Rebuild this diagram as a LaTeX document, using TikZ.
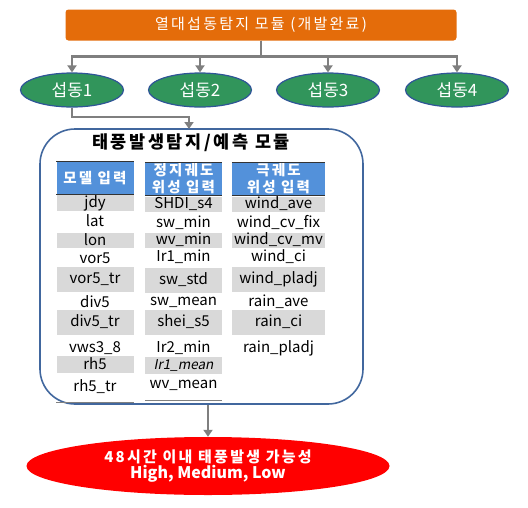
\documentclass[tikz,border=0pt]{standalone}
\usepackage{fontspec}
\setmainfont{Noto Sans CJK KR}
\newfontfamily\slantfont{Noto Sans CJK KR}[FakeSlant=0.2]
\newfontfamily\spacedfont{Noto Sans CJK KR}[LetterSpace=15]
\usepackage{tikz}
\usetikzlibrary{shapes.geometric,arrows.meta}
\definecolor{modorange}{HTML}{E46C0A}
\definecolor{distgreen}{HTML}{31955B}
\definecolor{distblue}{HTML}{2F5597}
\definecolor{headblue}{HTML}{5391DA}
\definecolor{boxblue}{HTML}{41679E}
\definecolor{cellgray}{HTML}{D9D9D9}
\definecolor{linkgray}{HTML}{7F7F7F}
\tikzstyle{module}=[rectangle, rounded corners=3pt, fill=modorange, text=white, minimum width=391, minimum height=31, font=\fontsize{15}{17}\spacedfont]
\tikzstyle{dist} = [ellipse, fill=distgreen, draw=distblue, line width=1.2pt, minimum width=103, minimum height=34, inner sep=0pt, text=white, font=\fontsize{17}{19}\selectfont]
\tikzstyle{predbox} = [rectangle, draw=boxblue, line width=1.6pt, rounded corners=35, minimum width=323, minimum height=275]
\tikzstyle{head} = [rectangle, fill=headblue, text=white, minimum width=77, minimum height=32, inner sep=0pt, align=center, font=\fontsize{14.5}{17}\spacedfont\bfseries]
\tikzstyle{cellplain} = [rectangle, minimum width=77, minimum height=30, inner sep=0pt, font=\fontsize{15}{17}\selectfont]
\tikzstyle{cellhi} = [cellplain, fill=cellgray, minimum height=15]
\tikzstyle{cellmid} = [cellhi, minimum height=17]
\tikzstyle{celltall} = [cellhi, minimum height=25]
\tikzstyle{link} = [draw, line width=2.6pt, linkgray, -{Triangle[length=7pt,width=9pt]}]
\tikzstyle{rule} = [draw, line width=1.2pt, black!80]
\tikzstyle{baserule} = [draw, line width=1pt, gray]

\begin{document}
\begin{tikzpicture}[x=1pt, y=-1pt]
	\useasboundingbox (0,0) rectangle (528,507);

	\node[module] (detect) at (261,25) {열대섭동탐지 모듈 (개발완료)};

	\node[dist] (dist1) at (72,90) {섭동1};
	\node[dist] (dist2) at (200,90) {섭동2};
	\node[dist] (dist3) at (328,90) {섭동3};
	\node[dist] (dist4) at (457,90) {섭동4};

	\foreach \n in {1,...,4}{
		\draw[link] (detect.south) -- ++(0,16) -| (dist\n.north);
	}

	\node[predbox] (predict) at (201.5,266.5) {};
	\node[font=\fontsize{17.5}{19}\spacedfont\bfseries] (title) at (191,143) {태풍발생탐지/예측 모듈};

	\coordinate (inlet) at (189,129);
	\draw[link] (dist1.south) |- (189,117) -- (inlet);

	% column headers
	\node[head] (mhead) at (95,178) {모델 입력};
	\node[head] (ghead) at (183.5,179) {정지궤도\\위성 입력};
	\node[head, minimum width=93] (phead) at (278.5,179) {극궤도\\위성 입력};

	\foreach \h in {mhead, ghead, phead}{
		\draw[rule] (\h.north west) -- (\h.north east);
		\draw[rule, line width=.8pt] (\h.south west) -- (\h.south east);
	}

	\foreach \y/\t/\s [count=\i] in {203/jdy/cellhi, 221/lat/cellplain, 240/lon/cellhi, 258/vor5/cellplain, 279/vor5\_tr/celltall, 302/div5/cellplain, 322/div5\_tr/celltall, 348/vws3\_8/cellplain, 364/rh5/cellmid, 387/rh5\_tr/cellplain}
		\node[\s] (m\i) at (95,\y) {\t};

	\foreach \y/\t/\s [count=\i] in {204/SHDI\_s4/cellhi, 223/sw\_min/cellplain, 240/wv\_min/cellhi, 257/Ir1\_min/cellplain, 280/sw\_std/celltall, 302/sw\_mean/cellplain, 322/shei\_s5/celltall, 348/Ir2\_min/cellplain, 365/{\slantfont\fontsize{13.5}{15}\selectfont Ir1\_mean}/cellmid, 385/wv\_mean/cellplain}
		\node[\s] (g\i) at (183.5,\y) {\t};

	\foreach \y/\t/\s [count=\i] in {204/wind\_ave/cellhi, 222/wind\_cv\_fix/cellplain, 240/wind\_cv\_mv/cellhi, 257/wind\_ci/cellplain, 279/wind\_pladj/celltall, 302/rain\_ave/cellplain, 322/rain\_ci/celltall, 348/rain\_pladj/cellplain}
		\node[\s, minimum width=93] (p\i) at (278.5,\y) {\t};

	\draw[baserule] (mhead.west |- m10.south) -- (mhead.east |- m10.south);
	\draw[baserule] (ghead.west |- g10.south) -- (ghead.east |- g10.south);

	\node[ellipse, fill=red, minimum width=363, minimum height=58, inner sep=0pt, align=center, text=white, font=\bfseries] (result) at (208,466) {{\fontsize{15}{17}\spacedfont\bfseries 48시간 이내 태풍발생 가능성}\\{\fontsize{16}{17}\selectfont High, Medium, Low}};

	\draw[link] (predict.south -| result.north) -- (result.north);
\end{tikzpicture}
\end{document}
